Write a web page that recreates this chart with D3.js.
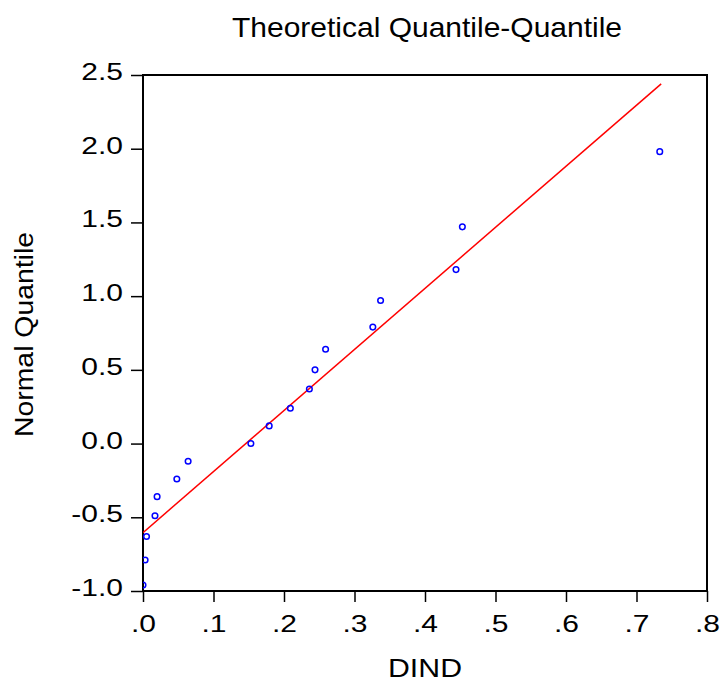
<!DOCTYPE html>
<html>
<head>
<meta charset="utf-8">
<script src="https://cdn.jsdelivr.net/npm/d3@7"></script>
<style>
  body { margin: 0; background: #fff; }
  text { font-family: "Liberation Sans", Arial, sans-serif; fill: #000; }
</style>
</head>
<body>
<script>
// observed DIND values vs. theoretical normal quantiles
var dind = [0.000, 0.003, 0.005, 0.017, 0.020, 0.048, 0.064, 0.153, 0.179, 0.209,
            0.236, 0.244, 0.259, 0.326, 0.337, 0.444, 0.453, 0.733];
var normalQ = [-0.96, -0.79, -0.63, -0.49, -0.36, -0.24, -0.12, 0.00, 0.12, 0.24,
               0.37, 0.50, 0.64, 0.79, 0.97, 1.18, 1.47, 1.98];
// fitted reference line endpoints
var lineX = [0.0, 0.735];
var lineY = [-0.604, 2.44];
var xTicks = [0, 0.1, 0.2, 0.3, 0.4, 0.5, 0.6, 0.7, 0.8];
var yTicks = [-1.0, -0.5, 0.0, 0.5, 1.0, 1.5, 2.0, 2.5];

var margin = {top: 75, right: 15, bottom: 94, left: 143};
var W = 722, H = 685;
var width = W - margin.left - margin.right;
var height = H - margin.top - margin.bottom;

// the original text is drawn a bit wider than its font
function stretch(sel, k) {
  sel.each(function() {
    var w = this.getComputedTextLength();
    d3.select(this).attr("textLength", w * k).attr("lengthAdjust", "spacingAndGlyphs");
  });
}

var svg = d3.select("body").append("svg")
  .attr("width", W)
  .attr("height", H);

var g = svg.append("g")
  .attr("transform", "translate(" + margin.left + "," + margin.top + ")");

var x = d3.scaleLinear().domain([0, 0.8]).range([0, width]);
var y = d3.scaleLinear().domain([-1.0, 2.5]).range([height, 0]);

var xAxis = d3.axisBottom(x).tickValues(xTicks).tickSize(11).tickPadding(13)
  .tickFormat(function(d) { return d3.format(".1f")(d).replace(/^0/, ""); });
var yAxis = d3.axisLeft(y).tickValues(yTicks).tickSize(12).tickPadding(8)
  .tickFormat(function(d) { return d.toFixed(1); });

var gx = g.append("g").attr("transform", "translate(0," + height + ")").call(xAxis);
var gy = g.append("g").call(yAxis);
[gx, gy].forEach(function(a) {
  a.select(".domain").remove();
  a.selectAll(".tick line").attr("stroke", "#000").attr("stroke-width", 1.5);
  a.selectAll(".tick text").style("font-size", "24px").attr("fill", "#000");
});
gy.selectAll(".tick text").attr("dy", "0.19em");
stretch(gx.selectAll(".tick text"), 1.25);
stretch(gy.selectAll(".tick text"), 1.25);

// frame
g.append("rect")
  .attr("width", width).attr("height", height)
  .attr("fill", "none").attr("stroke", "#000").attr("stroke-width", 2);

// clip for marks
g.append("clipPath").attr("id", "clip").append("rect")
  .attr("width", width).attr("height", height);

var plot = g.append("g").attr("clip-path", "url(#clip)");

var pts = lineX.map(function(v, i) { return [v, lineY[i]]; });
plot.append("path")
  .datum(pts)
  .attr("d", d3.line().x(function(d) { return x(d[0]); }).y(function(d) { return y(d[1]); }))
  .attr("stroke", "#ff0000").attr("stroke-width", 1.5).attr("fill", "none");

plot.selectAll("circle")
  .data(dind.map(function(v, i) { return [v, normalQ[i]]; }))
  .enter().append("circle")
  .attr("cx", function(d) { return x(d[0]); })
  .attr("cy", function(d) { return y(d[1]); })
  .attr("r", 2.8)
  .attr("fill", "none").attr("stroke", "#0000ff").attr("stroke-width", 1.5);

// title and labels
svg.append("text")
  .attr("x", 427).attr("y", 37)
  .attr("text-anchor", "middle")
  .style("font-size", "28px")
  .attr("textLength", 390).attr("lengthAdjust", "spacingAndGlyphs")
  .text("Theoretical Quantile-Quantile");

svg.append("text")
  .attr("x", 425).attr("y", 677)
  .attr("text-anchor", "middle")
  .style("font-size", "26px")
  .attr("textLength", 74).attr("lengthAdjust", "spacingAndGlyphs")
  .text("DIND");

svg.append("text")
  .attr("transform", "translate(33,334.5) rotate(-90)")
  .attr("text-anchor", "middle")
  .style("font-size", "25px")
  .attr("textLength", 205).attr("lengthAdjust", "spacingAndGlyphs")
  .text("Normal Quantile");
</script>
</body>
</html>
